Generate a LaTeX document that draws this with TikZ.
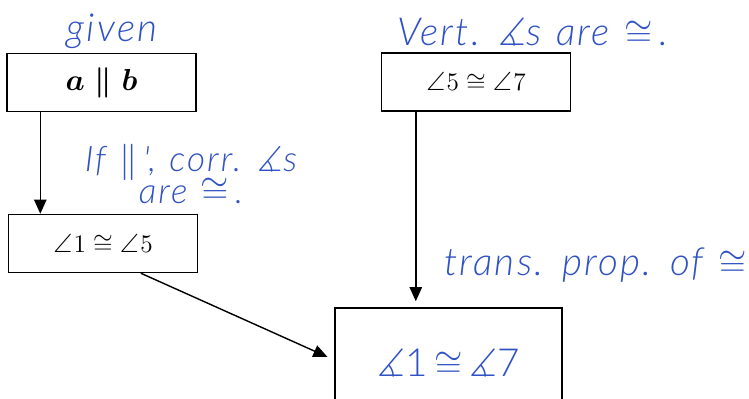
\documentclass[tikz,border=0pt]{standalone}
\usepackage{amsmath,amssymb}
\usepackage{fontspec}
\usetikzlibrary{arrows.meta,positioning}
\newfontfamily\handfont{Lato Light}[LetterSpace=6, WordSpace=1.2]
\definecolor{ink}{HTML}{3052C4}

\tikzset{
  stepbox/.style={draw, line width=0.8pt, minimum width=3.78cm, minimum height=1.16cm, inner sep=0pt,
    font=\fontsize{15}{18}\selectfont},
  hand/.style={ink, font=\handfont\itshape\fontsize{22}{26}\selectfont, inner sep=1pt},
  arr/.style={-{Triangle[length=8pt,width=7pt]}, line width=0.8pt}
}

\begin{document}
\begin{tikzpicture}
  \useasboundingbox (0,0) rectangle (14.98,7.98);

  % given column
  \node[hand] (given) at (2.24,7.36) {given};
  \node[stepbox] (par) at (2.03,6.33) {\fontsize{17}{20}\selectfont$\boldsymbol{a \parallel b}$};
  \node[stepbox] (cor) at (2.06,3.11) {$\angle\mkern1mu 1 \cong \angle\mkern1mu 5$};
  \node[hand, align=center, font=\handfont\itshape\fontsize{20}{24}\selectfont] (corr) at (3.82,4.5)
    {If $\parallel$\,', corr. $\measuredangle$s\\[-6pt]are $\cong$\,.};

  % vertical angles column
  \node[hand, anchor=west] (vert) at (7.90,7.34) {Vert. $\measuredangle$s are $\cong$\,.};
  \node[stepbox] (vrt) at (9.52,6.34) {$\angle\mkern1mu 5 \cong \angle\mkern1mu 7$};

  % conclusion
  \node[stepbox, minimum width=4.54cm, minimum height=2.2cm, text=ink,
    font=\handfont\fontsize{22}{26}\selectfont] (con) at (8.97,0.72) {$\measuredangle$1\,$\cong$\,$\measuredangle$7};
  \node[hand, anchor=west] (trans) at (8.84,2.68) {trans. prop. of $\cong$};

  % arrows
  \draw[arr] ([xshift=0.68cm]par.south west) -- ([xshift=0.68cm]par.south west |- cor.north);
  \draw[arr, shorten >=0.12cm] ([xshift=0.7cm]vrt.south west) -- ([xshift=0.7cm]vrt.south west |- con.north);
  \draw[arr, shorten >=0.15cm] ([xshift=2.66cm]cor.south west) -- ([yshift=0.06cm]con.west);
\end{tikzpicture}
\end{document}
